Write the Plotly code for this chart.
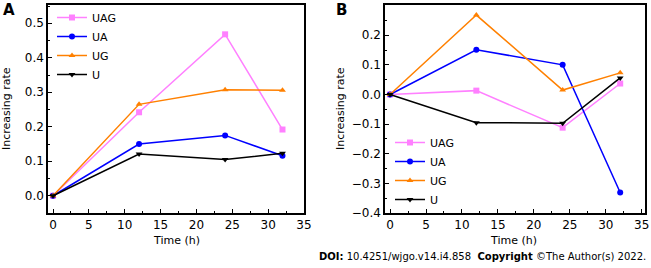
import plotly.graph_objects as go

W, H = 651, 268
time_h = [0, 12, 24, 32]
series = ["UAG", "UA", "UG", "U"]
a_uag = [0, 0.242, 0.468, 0.192]
a_ua = [0, 0.150, 0.175, 0.116]
a_ug = [0, 0.265, 0.307, 0.306]
a_u = [0, 0.121, 0.105, 0.123]
b_uag = [0, 0.013, -0.112, 0.037]
b_ua = [0, 0.151, 0.100, -0.331]
b_ug = [0, 0.268, 0.015, 0.073]
b_u = [0, -0.095, -0.097, 0.056]

colors = ["#FF80FF", "#0000FF", "#FF8000", "#000000"]
symbols = ["square", "circle", "triangle-up", "triangle-down"]
FONT = "DejaVu Sans"

fig = go.Figure()
for i, (name, ya) in enumerate(zip(series, [a_uag, a_ua, a_ug, a_u])):
    fig.add_trace(go.Scatter(x=time_h, y=ya, name=name, mode="lines+markers",
                             line=dict(color=colors[i], width=1.5),
                             marker=dict(symbol=symbols[i], size=6, color=colors[i]),
                             xaxis="x", yaxis="y", legend="legend"))
for i, (name, yb) in enumerate(zip(series, [b_uag, b_ua, b_ug, b_u])):
    fig.add_trace(go.Scatter(x=time_h, y=yb, name=name, mode="lines+markers",
                             line=dict(color=colors[i], width=1.5),
                             marker=dict(symbol=symbols[i], size=6, color=colors[i]),
                             xaxis="x2", yaxis="y2", legend="legend2"))

def px(x):
    return x / W

def py(y):
    return 1 - y / H

axis_common = dict(showline=True, linecolor="black", linewidth=1.5, mirror=True,
                   ticks="inside", ticklen=4, tickwidth=1.2, tickcolor="black",
                   showgrid=False, zeroline=False, automargin=False,
                   tickfont=dict(family=FONT, size=12, color="black"))
minor_x = dict(ticks="inside", ticklen=2.5, dtick=2.5, tickcolor="black", tickwidth=1.2)
minor_y = dict(ticks="inside", ticklen=2.5, dtick=0.05, tickcolor="black", tickwidth=1.2)

def label(text, x, y, angle=0, size=11, bold=False, xanchor="center"):
    return dict(text=f"<b>{text}</b>" if bold else text, x=px(x), y=py(y),
                xref="paper", yref="paper", xanchor=xanchor, yanchor="middle",
                textangle=angle, showarrow=False,
                font=dict(family=FONT, size=size, color="black"))

fig.update_layout(
    width=W, height=H, margin=dict(l=0, r=0, t=0, b=0),
    paper_bgcolor="white", plot_bgcolor="white",
    font=dict(family=FONT, color="black"),
    xaxis=dict(domain=[px(48), px(304)], range=[-0.7, 35], dtick=5, anchor="y",
               minor=minor_x, **axis_common),
    yaxis=dict(domain=[py(213), py(5)], range=[-0.05, 0.553], dtick=0.1, tickformat=".1f",
               anchor="x", minor=minor_y, **axis_common),
    xaxis2=dict(domain=[px(385), px(645)], range=[-0.7, 35.45], dtick=5, anchor="y2",
                minor=minor_x, **axis_common),
    yaxis2=dict(domain=[py(213), py(5)], range=[-0.4, 0.302], dtick=0.1, tickformat=".1f",
                anchor="x2", minor=minor_y, **axis_common),
    legend=dict(x=px(52), y=py(3), xanchor="left", yanchor="top",
                bgcolor="rgba(0,0,0,0)", font=dict(family=FONT, size=11),
                tracegroupgap=0, itemwidth=30),
    legend2=dict(x=px(390), y=py(128), xanchor="left", yanchor="top",
                 bgcolor="rgba(0,0,0,0)", font=dict(family=FONT, size=11),
                 tracegroupgap=0, itemwidth=30),
    annotations=[
        label("A", 1, 10, size=15, bold=True, xanchor="left"),
        label("B", 334, 10, size=15, bold=True, xanchor="left"),
        label("Time (h)", 176, 240),
        label("Time (h)", 513, 240),
        label("Increasing rate", 6, 109, angle=-90),
        label("Increasing rate", 340, 109, angle=-90),
        label("<b>DOI:</b> 10.4251/wjgo.v14.i4.858  <b>Copyright</b> ©The Author(s) 2022.",
              648, 256, size=10, xanchor="right"),
    ],
)

fig.write_html("out.html", config={"displayModeBar": False},
               post_script="document.body.style.margin='0px';document.body.style.overflow='hidden';")
